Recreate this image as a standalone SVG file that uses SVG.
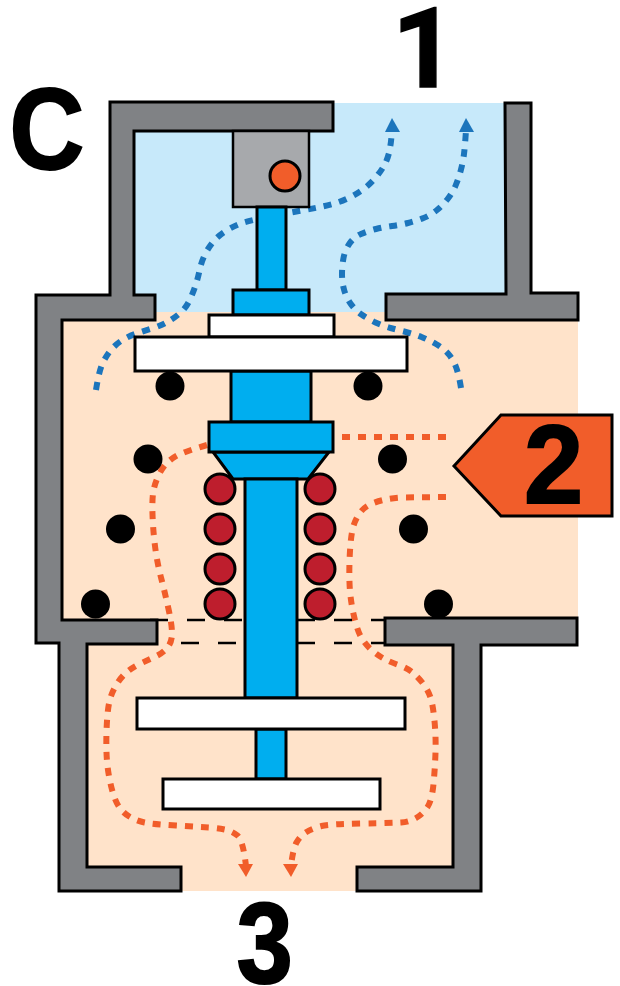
<svg xmlns="http://www.w3.org/2000/svg" width="620" height="986" viewBox="0 0 620 986">
<style>
.wall{fill:#808285;stroke:#000;stroke-width:3}
.part{fill:#00AEEF;stroke:#000;stroke-width:3}
.plate{fill:#fff;stroke:#000;stroke-width:3}
.red{fill:#BE1E2D;stroke:#000;stroke-width:3}
.ball{fill:#000}
.blueflow{fill:none;stroke:#1C75BC;stroke-width:6;stroke-dasharray:8 8}
.orangeflow{fill:none;stroke:#F15D2A;stroke-width:6;stroke-dasharray:8 8}
.dash{fill:none;stroke:#000;stroke-width:2.5;stroke-dasharray:18 19}
.label{font-family:"Liberation Sans",Arial,sans-serif;font-weight:700;fill:#000;stroke:#000;stroke-width:2}
.one{font-family:Roboto,"Liberation Sans",Arial,sans-serif;font-weight:700;font-size:112px;fill:#000;stroke:#000;stroke-width:1.5}
</style>
<g id="chamber">
<path fill="#C7E9FA" d="M134,103H505V312H134Z"/>
<path fill="#FFE3CA" d="M61,312H578V618H453V867H357V891H181V867H87V620H61Z"/>
</g>
<g id="connectors">
<path class="blueflow" d="M96,390 Q99,371 102.5,363.5 Q106,356 111,350 Q116,344 122.5,340 Q129,336 136.5,333.5 Q144,331 152,328.5 Q160,326 166.5,322.5 Q173,319 179.5,313.5 Q186,308 189.5,300.5 Q193,293 195.5,285.5 Q198,278 199.5,270.5 Q201,263 204.5,255.5 Q208,248 213,242 Q218,236 225,231.5 Q232,227 239.5,224 Q247,221 270,216.5 Q293,212 301.5,210.5 Q310,209 317.5,207.5 Q325,206 332.5,204 Q340,202 347.5,198.5 Q355,195 361.5,190.5 Q368,186 373.5,180 Q379,174 383,167.5 Q387,161 389,153 Q391,145 392,130"/>
<path class="blueflow" d="M461,388 Q459,375 456,367 Q453,359 448,353.5 Q443,348 436,344 Q429,340 421.5,337 Q414,334 406,332 Q398,330 390.5,328 Q383,326 375.5,322.5 Q368,319 361.5,314.5 Q355,310 350.5,303.5 Q346,297 344,289.5 Q342,282 342,274 Q342,266 343.5,258 Q345,250 349.5,243.5 Q354,237 361,234 Q368,231 376,229 Q384,227 392,226 Q400,225 408,223 Q416,221 423.5,218 Q431,215 437,210 Q443,205 448,198.5 Q453,192 456,184.5 Q459,177 461,169.5 Q463,162 464,154 Q465,146 466,130"/>
<path fill="#1C75BC" d="M392,118L400,132H385Z"/>
<path fill="#1C75BC" d="M466,118L474,132H459Z"/>
<path class="orangeflow" d="M207,445 Q190,450 181.5,453.5 Q173,457 167.5,462.5 Q162,468 158.5,475.5 Q155,483 153.5,490.5 Q152,498 152.5,514 Q153,530 155,546 Q157,562 161,577.5 Q165,593 168.5,609 Q172,625 172,633.5 Q172,642 167.5,647.5 Q163,653 155.5,656.5 Q148,660 140.5,663.5 Q133,667 127.5,671.5 Q122,676 117.5,683 Q113,690 110.5,697.5 Q108,705 107,721 Q106,737 106.5,752.5 Q107,768 110.5,783.5 Q114,799 118.5,806 Q123,813 130,817 Q137,821 144.5,822.5 Q152,824 176,825.5 Q200,827 208.5,827.5 Q217,828 224.5,829.5 Q232,831 237.5,835.5 Q243,840 246,866"/>
<path class="orangeflow" d="M446,497 L401.5,497.5 Q393,498 385.5,499.5 Q378,501 371,504 Q364,507 359.5,513.5 Q355,520 353,527.5 Q351,535 350,551 Q349,567 349.5,582.5 Q350,598 353.5,614 Q357,630 361,637 Q365,644 371,649.5 Q377,655 383.5,658.5 Q390,662 398.5,665 Q407,668 412.5,672.5 Q418,677 423,683.5 Q428,690 430.5,697.5 Q433,705 434.5,721 Q436,737 435.5,752.5 Q435,768 433.5,784 Q432,800 427.5,807 Q423,814 416,818 Q409,822 401,822.5 Q393,823 361.5,823.5 Q330,824 321.5,826 Q313,828 306.5,832 Q300,836 296.5,842.5 Q293,849 291,866"/>
<path class="orangeflow" d="M342,437H446"/>
<path fill="#F15D2A" d="M246,877L238,864H253Z"/>
<path fill="#F15D2A" d="M291,877L283,864H298Z"/>
<path class="dash" d="M150,620H245M297,620H385"/>
<path class="dash" d="M181,643H245M297,643H385"/>
</g>
<g id="wall-left"><path class="wall" d="M110,102H333V131H134V295H155V320H62V620H157V644H87V867H181V891H59V643H36V295H110Z"/></g>
<g id="wall-top-right"><path class="wall" d="M505,103H531V293H578V320H386V294H506Z"/></g>
<g id="wall-bottom-right"><path class="wall" d="M385,618H577V645H481V891H357V867H453V645H385Z"/></g>
<g id="actuator"><rect x="233" y="131" width="76" height="76" fill="#A7A9AC" stroke="#000" stroke-width="2.5"/><circle cx="285" cy="176" r="15" fill="#F15D2A" stroke="#000" stroke-width="3"/></g>
<g id="stem">
<rect class="part" x="257" y="207" width="29" height="83"/>
<rect class="part" x="233" y="290" width="76" height="25"/>
<rect class="part" x="231" y="371" width="80" height="51"/>
<path class="part" d="M213,452H329L308,479H233Z"/>
<rect class="part" x="209" y="422" width="124" height="30"/>
<rect class="part" x="245" y="479" width="52" height="219"/>
<rect class="part" x="256" y="729" width="30" height="50"/>
</g>
<g id="plates">
<rect class="plate" x="209" y="315" width="125" height="22"/>
<rect class="plate" x="135" y="337" width="272" height="34"/>
<rect class="plate" x="137" y="698" width="268" height="31"/>
<rect class="plate" x="163" y="779" width="217" height="30"/>
</g>
<g id="seals">
<circle class="red" cx="220" cy="489" r="15"/><circle class="red" cx="320" cy="489" r="15"/>
<circle class="red" cx="220" cy="529" r="15"/><circle class="red" cx="320" cy="529" r="15"/>
<circle class="red" cx="220" cy="569" r="15"/><circle class="red" cx="320" cy="569" r="15"/>
<circle class="red" cx="220" cy="604" r="15"/><circle class="red" cx="320" cy="604" r="15"/>
</g>
<g id="particles">
<circle class="ball" cx="170" cy="386" r="14.5"/><circle class="ball" cx="368" cy="386" r="14.5"/>
<circle class="ball" cx="148" cy="459" r="14.5"/><circle class="ball" cx="392.5" cy="459" r="14.5"/>
<circle class="ball" cx="120.5" cy="529" r="14.5"/><circle class="ball" cx="413.5" cy="529" r="14.5"/>
<circle class="ball" cx="95.5" cy="604" r="14.5"/><circle class="ball" cx="438.5" cy="604" r="14.5"/>
</g>
<g id="port-2"><path d="M454,466L501,415H612V516H501Z" fill="#F15D2A" stroke="#000" stroke-width="3"/><text class="label" font-size="112" transform="translate(524,502.5) scale(.95,1)">2</text></g>
<g id="label-c"><text class="label" font-size="115" transform="translate(9.5,169) scale(.9,1)">C</text></g>
<g id="label-1"><text class="one" x="392" y="86.5">1</text></g>
<g id="label-3"><text class="label" font-size="115" transform="translate(236.5,982.5) scale(.88,1)">3</text></g>
</svg>
